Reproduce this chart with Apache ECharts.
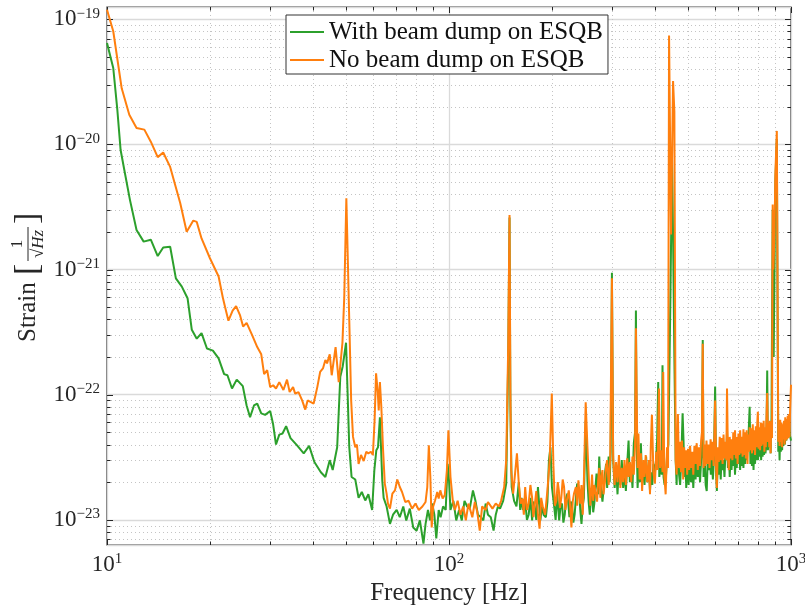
<!DOCTYPE html>
<html>
<head>
<meta charset="utf-8">
<script src="https://cdn.jsdelivr.net/npm/echarts@6/dist/echarts.min.js"></script>
<style>
  html, body { margin: 0; padding: 0; background: #fff; }
  #chart { width: 805px; height: 607px; }
</style>
</head>
<body>
<div id="chart"></div>
<script>
// Amplitude spectral density of the strain, two configurations.
// Each entry is [frequency in Hz, strain in units of 1e-23 / sqrt(Hz)];
// tick labels on the y axis show the true powers of ten.
const UNIT_EXP = -23;

const nameWith = 'With beam dump on ESQB';
const nameNo = 'No beam dump on ESQB';

const spectrumWith = [
  [10.0, 6450], [10.43, 4070], [10.72, 1890], [10.96, 900], [11.28, 590], [11.67, 360], [12.2, 207], [12.8, 167],
  [13.43, 173], [14.07, 128], [14.6, 150], [15.3, 152], [15.9, 85], [16.55, 73], [17.2, 59], [17.7, 33],
  [18.3, 28], [18.9, 31], [19.6, 23.4], [20.4, 22.5], [21.2, 19.5], [22.0, 14.6], [22.5, 14.3], [23.2, 11.2],
  [23.95, 13.2], [24.95, 11.7], [25.6, 8.2], [26.2, 6.6], [26.9, 8.2], [27.5, 8.5], [28.25, 7.1], [29.0, 6.9],
  [30.0, 7.4], [30.6, 5.8], [31.2, 4.0], [31.9, 4.8], [32.6, 4.9], [33.4, 5.6], [34.4, 4.5], [35.9, 3.95],
  [37.6, 3.4], [39.0, 3.9], [40.4, 2.9], [42.2, 2.4], [43.5, 2.2], [44.8, 3.0], [45.7, 2.5], [47.1, 3.8],
  [48.1, 13.9], [48.9, 16.9], [50.0, 26], [51.1, 3.8], [51.9, 2.2], [53.2, 2.1], [54.4, 1.5], [55.6, 1.67],
  [56.9, 1.43], [58.1, 1.6], [59.6, 1.2], [60.5, 2.5], [61.3, 3.6], [62.0, 3.8], [62.8, 6.6], [63.8, 2.07],
  [64.4, 1.5], [65.7, 1.28], [67.2, 0.93], [68.6, 1.1], [70.3, 1.2], [71.8, 1.05], [73.5, 1.28], [75.0, 0.99],
  [76.8, 1.23], [78.6, 0.87], [80.4, 0.82], [82.2, 0.99], [84.2, 0.645], [85.4, 0.93], [86.8, 1.2], [88.0, 0.99],
  [89.3, 1.35], [90.6, 1.1], [91.8, 0.71], [93.3, 1.2], [94.5, 1.05], [96.1, 1.28], [97.8, 1.2], [99.1, 2.8],
  [100, 2.07], [101, 1.2], [103, 1.42], [105, 0.99], [107, 1.2], [109, 0.99], [111, 1.42], [113, 1.28],
  [115, 1.23], [117.5, 1.72], [119.5, 1.42], [121.5, 1.1], [124, 1.05], [126, 0.99], [128, 1.35], [130, 1.1],
  [132.5, 1.05], [135, 0.82], [137, 1.1], [139, 1.28], [141, 1.23], [144, 1.42], [147, 1.95], [149, 20],
  [150.3, 260], [151.2, 8], [152.5, 1.83], [155, 1.42], [157.5, 1.28],
  [160, 2.0], [161.5, 1.2], [163, 1.5], [164.5, 1.2], [167, 1.42], [169, 1.0], [171, 1.1], [173, 1.5],
  [175, 0.99], [176.5, 1.4], [178, 1.28], [180, 1.0], [182, 1.83], [185, 0.99], [187, 1.3], [189, 1.1],
  [192, 1.05], [194, 1.4], [196, 3.0], [198, 3.8], [200, 1.83], [203, 1.28], [205, 1.0], [207, 1.62],
  [210, 0.99], [212, 1.3], [214, 1.35], [216, 0.95], [218, 1.1], [220, 1.5], [222, 1.62], [225, 1.05],
  [227, 1.4], [229, 1.28], [231, 0.95], [233, 1.1], [235, 1.5], [237, 1.95], [240, 1.72], [242, 1.2],
  [244, 0.93], [246, 1.3], [248, 1.5], [251, 6.2], [254, 2.07], [256, 1.4], [258, 1.1], [260, 1.5],
  [262, 1.72], [264, 1.15], [266, 1.35], [268, 1.8], [270, 2.34], [273, 1.6], [275, 3.2], [277, 2.0],
  [279, 1.95], [281, 1.4], [283, 1.72], [286, 2.4], [288, 2.8], [290, 1.8], [293, 3.2], [295, 2.0],
  [297, 3.5], [299.5, 94], [302, 3.0], [305, 1.8], [308, 2.6], [311, 1.6], [314, 2.8], [317, 1.9],
  [320, 3.0], [323, 1.8], [326, 2.4], [329, 1.7], [332, 2.8], [335, 4.3], [338, 2.0], [341, 2.6],
  [344, 1.8], [347, 4.1], [350, 5.0], [352, 47], [354, 4.0], [356, 1.8], [359, 2.9], [362, 2.0],
  [364, 4.1], [367, 2.0], [370, 2.6], [373, 1.9], [377, 3.2], [380, 2.0], [384, 2.7], [387, 1.7],
  [390, 2.4], [393, 1.9], [396, 2.8], [399, 2.2], [403, 3.0], [406, 4.3], [409, 12.6], [412, 2.2],
  [416, 2.8], [419, 2.3], [421, 17.2], [424, 2.2], [427, 1.9], [430, 2.0], [434, 3.2], [438, 4.0],
  [444, 60], [449, 750], [452, 190], [456, 20], [460, 3.0], [463, 1.9], [466, 5.0], [470, 2.4],
  [474, 1.9], [478, 3.2], [482, 7.1], [485, 4.3], [488, 2.2], [491, 3.0], [494, 1.8], [498, 2.9],
  [502, 1.9], [506, 3.2], [510, 2.0], [514, 2.9], [518, 1.8], [522, 3.0], [526, 2.1], [530, 3.3],
  [534, 2.2], [538, 3.1], [542, 2.0], [546, 3.0], [549, 3.5], [552, 27.3], [555, 2.2], [559, 3.3],
  [563, 1.9], [567, 1.7], [571, 3.1], [575, 2.5], [579, 3.2], [583, 2.3], [587, 3.0], [591, 2.1],
  [595, 3.0], [600, 11.6], [604, 2.4], [607, 1.7], [611, 3.1], [615, 2.3], [619, 3.3], [623, 2.1],
  [627, 3.4], [631, 2.5], [635, 3.0], [639, 2.2], [643, 3.4], [647, 3.0], [650, 5.2], [654, 2.6],
  [658, 3.4], [662, 2.2], [666, 3.3], [670, 2.5], [674, 3.5], [678, 2.7], [682, 3.6], [686, 2.3],
  [690, 3.4], [694, 2.6], [698, 3.7], [702, 2.8], [706, 3.5], [710, 2.5], [714, 3.8], [718, 2.7],
  [722, 3.6], [726, 2.6], [730, 3.9], [734, 2.8], [738, 3.7], [742, 3.0], [746, 4.0], [750, 4.2],
  [757, 8.0], [761, 2.8], [765, 4.1], [769, 2.7], [773, 3.9], [777, 2.5], [781, 4.0], [785, 2.8],
  [789, 4.2], [793, 3.0], [797, 4.4], [801, 3.0], [806, 4.5], [810, 3.2], [814, 4.4], [818, 3.0],
  [822, 4.6], [826, 3.2], [830, 4.3], [834, 3.3], [838, 4.5], [842, 3.4], [847, 4.0], [852, 15.6],
  [856, 3.6], [860, 4.6], [864, 3.8], [868, 5.0], [872, 3.4], [877, 6.6], [884, 300], [890, 20],
  [900, 500], [909, 1100], [914, 30], [918, 3.5], [922, 4.8], [926, 3.0], [930, 5.0], [934, 3.5],
  [938, 4.5], [942, 3.6], [946, 5.3], [950, 3.9], [955, 5.4], [960, 4.0], [965, 5.6], [970, 4.3],
  [975, 6.0], [980, 4.6], [986, 6.3], [992, 4.8], [1000, 4.3]
];

const spectrumNo = [
  [10.0, 11900], [10.43, 8000], [11.04, 2800], [11.62, 1720], [12.2, 1350], [12.86, 1310], [13.43, 1050], [14.07, 790],
  [14.6, 860], [15.3, 660], [16.37, 340], [17.1, 200], [17.88, 246], [18.3, 240], [18.9, 177], [20.0, 123],
  [21.2, 88], [21.8, 60], [22.15, 50], [22.65, 39], [23.3, 47], [23.85, 51], [24.5, 43], [25.0, 35],
  [25.6, 37.5], [26.55, 30], [27.5, 24], [28.25, 21], [28.8, 14.6], [29.4, 15.7], [30.0, 11.5], [30.6, 11.9],
  [31.2, 11.2], [31.9, 12.6], [32.8, 10.9], [33.6, 13.2], [34.2, 10.5], [35.0, 11.5], [35.5, 10.2], [36.3, 10.5],
  [37.2, 9.0], [38.0, 7.6], [38.6, 9.0], [40.2, 8.5], [41.2, 11.5], [42.0, 15.2], [42.8, 16.2], [43.5, 18.9],
  [44.0, 17.8], [44.8, 21], [45.4, 14.3], [46.6, 24], [47.6, 12.6], [48.8, 26], [49.4, 60], [50.1, 370],
  [51.1, 39], [51.75, 9.0], [52.4, 4.6], [53.2, 3.8], [53.8, 4.0], [54.4, 2.8], [55.3, 3.3], [56.3, 2.95],
  [57.3, 3.5], [58.1, 3.4], [59.1, 3.5], [59.9, 3.3], [60.6, 6.25], [61.2, 14.8], [61.9, 10.5], [62.3, 7.5],
  [62.8, 12.6], [63.4, 8.0], [64.1, 3.8], [64.9, 1.95], [65.7, 1.62], [66.3, 1.35], [67.2, 1.23], [68.3, 1.62],
  [69.5, 1.72], [70.6, 2.1], [71.8, 1.83], [72.9, 1.67], [74.5, 1.39], [76.2, 1.42], [78.0, 1.23], [79.8, 1.35],
  [81.6, 1.2], [83.6, 1.28], [85.4, 1.39], [86.4, 1.83], [87.3, 3.95], [88.2, 2.2], [89.0, 0.87], [89.9, 1.28],
  [91.0, 1.42], [92.4, 1.67], [93.3, 1.48], [94.3, 1.72], [95.8, 1.48], [97.2, 1.58], [98.6, 2.5], [99.6, 5.2],
  [101, 2.2], [102.6, 1.42], [104, 1.2], [106, 1.42], [108, 1.1], [110, 1.28], [112, 0.99], [114, 1.35],
  [117, 1.05], [119, 1.39], [121, 1.15], [123, 0.82], [125, 1.28], [128, 1.2], [130, 1.39], [134, 1.23],
  [137, 1.35], [140, 1.28], [142, 1.42], [145, 1.83], [147, 3.0], [149, 25], [150.3, 273], [151.2, 10],
  [152, 2.5], [154, 1.62], [156, 2.34], [158, 3.4],
  [160, 1.95], [162, 1.35], [164, 1.48], [165.5, 1.1], [167, 1.83], [169, 1.2], [171, 1.35], [173, 1.9],
  [175, 1.5], [176.5, 1.05], [178, 1.28], [180, 1.7], [182, 1.1], [184, 0.85], [186, 1.5], [188, 1.28],
  [191, 1.1], [194, 1.72], [197, 3.0], [199.8, 10.2], [202, 2.7], [204, 1.3], [206, 1.42], [208, 2.0],
  [209.5, 1.72], [211, 1.25], [213, 1.5], [215, 2.1], [217, 1.83], [219, 1.2], [221, 1.42], [224, 1.72],
  [226, 1.3], [228, 0.87], [230, 1.4], [232, 1.62], [235, 1.83], [237, 1.3], [239, 2.07], [242, 1.35],
  [244, 1.9], [246, 1.1], [248, 2.07], [251, 8.7], [254, 3.8], [257, 1.83], [259, 1.3], [260.5, 1.72],
  [262, 2.3], [264, 1.42], [266, 1.9], [269, 1.95], [271, 1.4], [273, 2.07], [275, 2.6], [277, 1.5],
  [279, 2.2], [281, 2.5], [283, 1.6], [286, 2.07], [288, 2.7], [290, 3.0], [293, 1.9], [296, 3.0],
  [299.5, 85], [302, 3.2], [305, 1.9], [308, 2.9], [311, 2.0], [314, 3.3], [317, 1.8], [320, 2.6],
  [323, 2.0], [326, 3.0], [329, 1.9], [332, 3.1], [335, 2.2], [338, 2.9], [341, 2.0], [344, 3.2],
  [347, 2.3], [350, 4.0], [352, 34], [354, 8.5], [356, 2.6], [358, 4.9], [361, 2.1], [364, 3.4],
  [367, 1.7], [370, 3.0], [373, 2.2], [376, 3.3], [380, 2.0], [384, 3.0], [387, 1.6], [389, 3.8],
  [392, 6.9], [396, 2.4], [400, 1.95], [404, 3.5], [407, 2.5], [411, 11.2], [414, 2.6], [418, 3.6],
  [421, 2.4], [423, 15.2], [426, 2.3], [430, 1.6], [434, 3.8], [437, 2.6], [440, 7400], [446, 190],
  [452, 3200], [456, 1830], [460, 3.0], [463, 2.3], [467, 7.0], [470, 2.6], [474, 4.2], [477, 2.4],
  [480, 4.3], [484, 2.1], [487, 3.8], [490, 2.6], [494, 3.6], [497, 2.3], [500, 3.7], [504, 2.5],
  [507, 3.9], [511, 2.6], [515, 3.5], [518, 2.3], [522, 3.9], [526, 2.8], [530, 4.1], [534, 2.5],
  [538, 3.8], [542, 2.7], [546, 4.3], [549, 5.0], [552, 25.5], [555, 2.6], [558, 4.0], [562, 2.7],
  [566, 4.3], [570, 2.8], [574, 4.0], [578, 2.6], [582, 4.4], [586, 3.0], [590, 4.2], [594, 2.7],
  [597, 4.5], [600, 9.0], [604, 2.6], [607, 1.8], [611, 3.8], [615, 2.9], [619, 4.6], [623, 3.0],
  [627, 4.5], [631, 2.8], [635, 4.8], [639, 3.1], [643, 4.2], [647, 3.0], [650, 11.2], [654, 3.2],
  [658, 2.5], [662, 4.6], [666, 3.1], [670, 4.4], [674, 3.0], [678, 5.0], [682, 3.3], [686, 5.2],
  [690, 3.1], [694, 4.6], [698, 2.8], [702, 4.9], [706, 3.3], [710, 5.2], [714, 3.4], [718, 4.6],
  [722, 3.2], [726, 5.3], [730, 3.3], [734, 5.0], [738, 3.1], [742, 5.2], [746, 2.8], [750, 4.8],
  [754, 3.5], [757, 5.5], [761, 3.6], [765, 5.4], [769, 3.4], [773, 5.8], [777, 3.6], [781, 5.2],
  [785, 3.3], [789, 5.6], [793, 3.8], [797, 6.0], [800, 7.3], [804, 3.7], [808, 5.5], [812, 3.6],
  [816, 6.0], [820, 3.9], [824, 5.9], [828, 4.0], [832, 6.2], [836, 3.5], [840, 5.5], [844, 3.8],
  [847, 6.0], [852, 10.3], [856, 4.2], [860, 6.0], [864, 3.8], [868, 6.2], [872, 3.4], [876, 6.0],
  [880, 4.5], [884, 330], [888, 100], [895, 200], [900, 570], [909, 1280], [914, 60], [918, 4.2],
  [922, 6.0], [926, 3.9], [930, 6.3], [934, 4.2], [938, 6.0], [942, 3.8], [946, 5.8], [950, 4.4],
  [954, 6.2], [958, 4.0], [962, 6.6], [966, 4.3], [970, 6.4], [974, 4.4], [978, 6.8], [982, 4.5],
  [986, 7.0], [990, 4.6], [994, 7.5], [1000, 12]
];

// Axis ranges (y in units of 1e-23) and decade ticks
const xRange = [10, 1000];
const yRange = [0.63, 12500];
const xMajor = [10, 100, 1000];
const yMajor = [1, 10, 100, 1000, 10000];

// Intermediate (2..9) positions inside each decade
const xMinor = [];
[10, 100].forEach(function (d) { for (let k = 2; k <= 9; k++) xMinor.push(d * k); });
const yMinor = [];
[0.1, 1, 10, 100, 1000, 10000].forEach(function (d) {
  for (let k = 2; k <= 9; k++) {
    const v = k * d;
    if (v > yRange[0] && v < yRange[1]) yMinor.push(v);
  }
});

const FONT = '"Liberation Serif", "DejaVu Serif", serif';
const INK = '#262626';
const GREEN = '#2ca02c';
const ORANGE = '#ff7f0e';

function powerText(e) {
  return '{b|10}{s|' + String(e).replace('-', '\u2212') + '}';
}
function xLabel(v) {
  const e = Math.log10(v), r = Math.round(e);
  return Math.abs(e - r) > 1e-6 ? '' : powerText(r);
}
function yLabel(v) {
  const e = Math.log10(v), r = Math.round(e);
  return Math.abs(e - r) > 1e-6 ? '' : powerText(r + UNIT_EXP);
}

const labelRich = {
  b: { fontFamily: FONT, fontSize: 23, color: INK, lineHeight: 26, verticalAlign: 'middle' },
  s: { fontFamily: FONT, fontSize: 15, color: INK, lineHeight: 15, verticalAlign: 'top' }
};

function seg(x1, y1, x2, y2, style) {
  return { type: 'line', shape: { x1: x1, y1: y1, x2: x2, y2: y2 }, style: style, silent: true };
}

// Dotted minor grid plus inward ticks on all four sides of the frame
function renderGuides(params, api) {
  const cs = params.coordSys;
  const L = cs.x, R = cs.x + cs.width, T = cs.y, B = cs.y + cs.height;
  const dotted = { stroke: '#c4c4c4', lineWidth: 1, lineDash: [1, 3] };
  const tick = { stroke: INK, lineWidth: 1 };
  const kids = [];
  xMinor.forEach(function (f) {
    const x = Math.round(api.coord([f, yRange[1]])[0]) + 0.5;
    kids.push(seg(x, T, x, B, dotted));
    kids.push(seg(x, B, x, B - 3.5, tick));
    kids.push(seg(x, T, x, T + 3.5, tick));
  });
  xMajor.forEach(function (f) {
    const x = Math.round(api.coord([f, yRange[1]])[0]) + 0.5;
    kids.push(seg(x, B, x, B - 6, tick));
    kids.push(seg(x, T, x, T + 6, tick));
  });
  yMinor.forEach(function (v) {
    const y = Math.round(api.coord([xRange[0], v])[1]) + 0.5;
    kids.push(seg(L, y, R, y, dotted));
    kids.push(seg(L, y, L + 3.5, y, tick));
    kids.push(seg(R, y, R - 3.5, y, tick));
  });
  yMajor.forEach(function (v) {
    const y = Math.round(api.coord([xRange[0], v])[1]) + 0.5;
    kids.push(seg(L, y, L + 6, y, tick));
    kids.push(seg(R, y, R - 6, y, tick));
  });
  return { type: 'group', children: kids };
}

const chart = echarts.init(document.getElementById('chart'), null, { renderer: 'canvas' });

const option = {
  animation: false,
  backgroundColor: '#ffffff',
  grid: {
    left: 107, right: 14, top: 7, bottom: 62,
    outerBoundsMode: 'none', containLabel: false,
    show: true, borderColor: INK, borderWidth: 1.2, backgroundColor: '#ffffff'
  },
  legend: {
    orient: 'vertical',
    left: 286, top: 15,
    icon: 'rect', itemWidth: 34, itemHeight: 2, itemGap: 2,
    padding: [4, 5, 1, 4],
    borderColor: '#333333', borderWidth: 1, borderRadius: 0,
    backgroundColor: '#ffffff',
    selectedMode: false,
    textStyle: { fontFamily: FONT, fontSize: 25, color: '#111111', lineHeight: 26 },
    data: [nameWith, nameNo]
  },
  xAxis: {
    type: 'log', logBase: 10, min: xRange[0], max: xRange[1], splitNumber: 2,
    name: 'Frequency [Hz]', nameLocation: 'middle', nameGap: 36,
    nameTextStyle: { fontFamily: FONT, fontSize: 25, color: INK },
    axisLine: { show: false },
    axisTick: { show: false },
    axisLabel: { margin: 7, formatter: xLabel, rich: labelRich, color: INK },
    splitLine: { show: true, lineStyle: { color: '#dadada', width: 1.3 } },
    minorTick: { show: false }, minorSplitLine: { show: false }
  },
  yAxis: {
    type: 'log', logBase: 10, min: yRange[0], max: yRange[1],
    axisLine: { show: false },
    axisTick: { show: false },
    axisLabel: { margin: 7, formatter: yLabel, rich: labelRich, color: INK },
    splitLine: { show: true, lineStyle: { color: '#dadada', width: 1.3 } },
    minorTick: { show: false }, minorSplitLine: { show: false }
  },
  graphic: [{
    type: 'group', x: 28, y: 274, rotation: Math.PI / 2,
    children: [
      { type: 'text', x: -68, y: 0, style: { text: 'Strain', font: '25px ' + FONT, fill: INK, textAlign: 'left', textVerticalAlign: 'middle' } },
      { type: 'text', x: -1, y: 0, style: { text: '[', font: '34px ' + FONT, fill: INK, textAlign: 'left', textVerticalAlign: 'middle' } },
      { type: 'text', x: 30, y: -10, style: { text: '1', font: '17px ' + FONT, fill: INK, textAlign: 'center', textVerticalAlign: 'middle' } },
      { type: 'line', shape: { x1: 13, y1: 0, x2: 47, y2: 0 }, style: { stroke: INK, lineWidth: 1 } },
      { type: 'text', x: 30, y: 11, style: { text: '\u221AHz', font: 'italic 17px ' + FONT, fill: INK, textAlign: 'center', textVerticalAlign: 'middle' } },
      { type: 'text', x: 50, y: 0, style: { text: ']', font: '34px ' + FONT, fill: INK, textAlign: 'left', textVerticalAlign: 'middle' } }
    ]
  }],
  series: [
    {
      type: 'custom', name: 'guides', silent: true, z: 1,
      renderItem: renderGuides,
      data: [[xRange[0], yMajor[0]]],
      tooltip: { show: false }
    },
    {
      type: 'line', name: nameWith, z: 2,
      data: spectrumWith,
      showSymbol: false, symbol: 'none',
      lineStyle: { color: GREEN, width: 2 }, itemStyle: { color: GREEN }
    },
    {
      type: 'line', name: nameNo, z: 3,
      data: spectrumNo,
      showSymbol: false, symbol: 'none',
      lineStyle: { color: ORANGE, width: 2 }, itemStyle: { color: ORANGE }
    }
  ]
};

chart.setOption(option);
</script>
</body>
</html>
